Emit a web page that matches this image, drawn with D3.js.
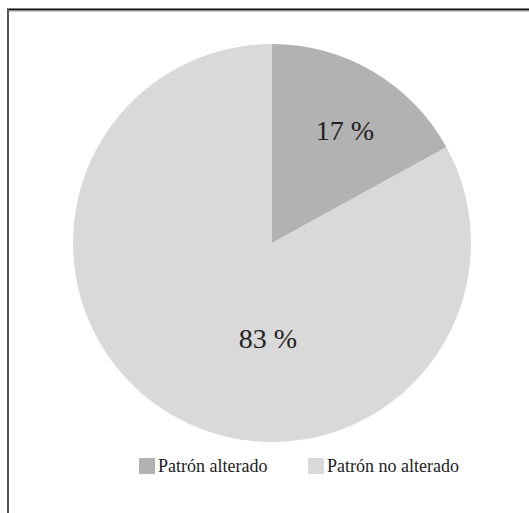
<!DOCTYPE html>
<html>
<head>
<meta charset="utf-8">
<script src="https://cdn.jsdelivr.net/npm/d3@7"></script>
<style>
  html, body { margin: 0; padding: 0; background: #fff; }
  svg { display: block; }
</style>
</head>
<body>
<svg id="chart" width="529" height="513"></svg>
<script>
// Distribución del patrón
const categories = ["Patrón alterado", "Patrón no alterado"];
const values = [17, 83];
const labels = ["17 %", "83 %"];
const colors = ["#b2b2b2", "#d9d9d9"];

const FONT = "'Liberation Serif', 'Times New Roman', Times, serif";
const svg = d3.select("#chart");
const W = 529, H = 513;

svg.append("rect").attr("width", W).attr("height", H).attr("fill", "#fff");

// Frame: top and left rules
svg.append("line").attr("x1", 7).attr("x2", W).attr("y1", 9.5).attr("y2", 9.5)
  .attr("stroke", "#111").attr("stroke-width", 2);
svg.append("line").attr("x1", 7).attr("x2", W).attr("y1", 11).attr("y2", 11)
  .attr("stroke", "#999").attr("stroke-width", 1);
svg.append("line").attr("x1", 8).attr("x2", 8).attr("y1", 9).attr("y2", H)
  .attr("stroke", "#555").attr("stroke-width", 2);

const cx = 272, cy = 243, radius = 199;

const pie = d3.pie().sort(null).value(d => d)
  .startAngle(0).endAngle(2 * Math.PI);
const arcs = pie(values);
const arc = d3.arc().innerRadius(0).outerRadius(radius);

const g = svg.append("g").attr("transform", `translate(${cx},${cy})`);

g.selectAll("path.slice").data(arcs).enter().append("path")
  .attr("class", "slice")
  .attr("d", arc)
  .attr("fill", (d, i) => colors[i]);

// Label placement relative to the pie centre (baseline offsets)
const labelOffsets = [[73, -103], [-4, 105]];
g.selectAll("text.pct").data(arcs).enter().append("text")
  .attr("class", "pct")
  .attr("x", (d, i) => labelOffsets[i][0])
  .attr("y", (d, i) => labelOffsets[i][1])
  .attr("text-anchor", "middle")
  .attr("font-family", FONT)
  .attr("font-size", 28)
  .attr("fill", "#222")
  .text((d, i) => labels[i]);

// Legend
const legendX = [139, 308];
const legend = svg.append("g");
const items = legend.selectAll("g.item").data(categories).enter().append("g")
  .attr("class", "item")
  .attr("transform", (d, i) => `translate(${legendX[i]},458)`);
items.append("rect").attr("width", 16).attr("height", 16)
  .attr("fill", (d, i) => colors[i]);
items.append("text").attr("x", 19).attr("y", 14)
  .attr("font-family", FONT)
  .attr("font-size", 18)
  .attr("fill", "#222")
  .text(d => d);
</script>
</body>
</html>
